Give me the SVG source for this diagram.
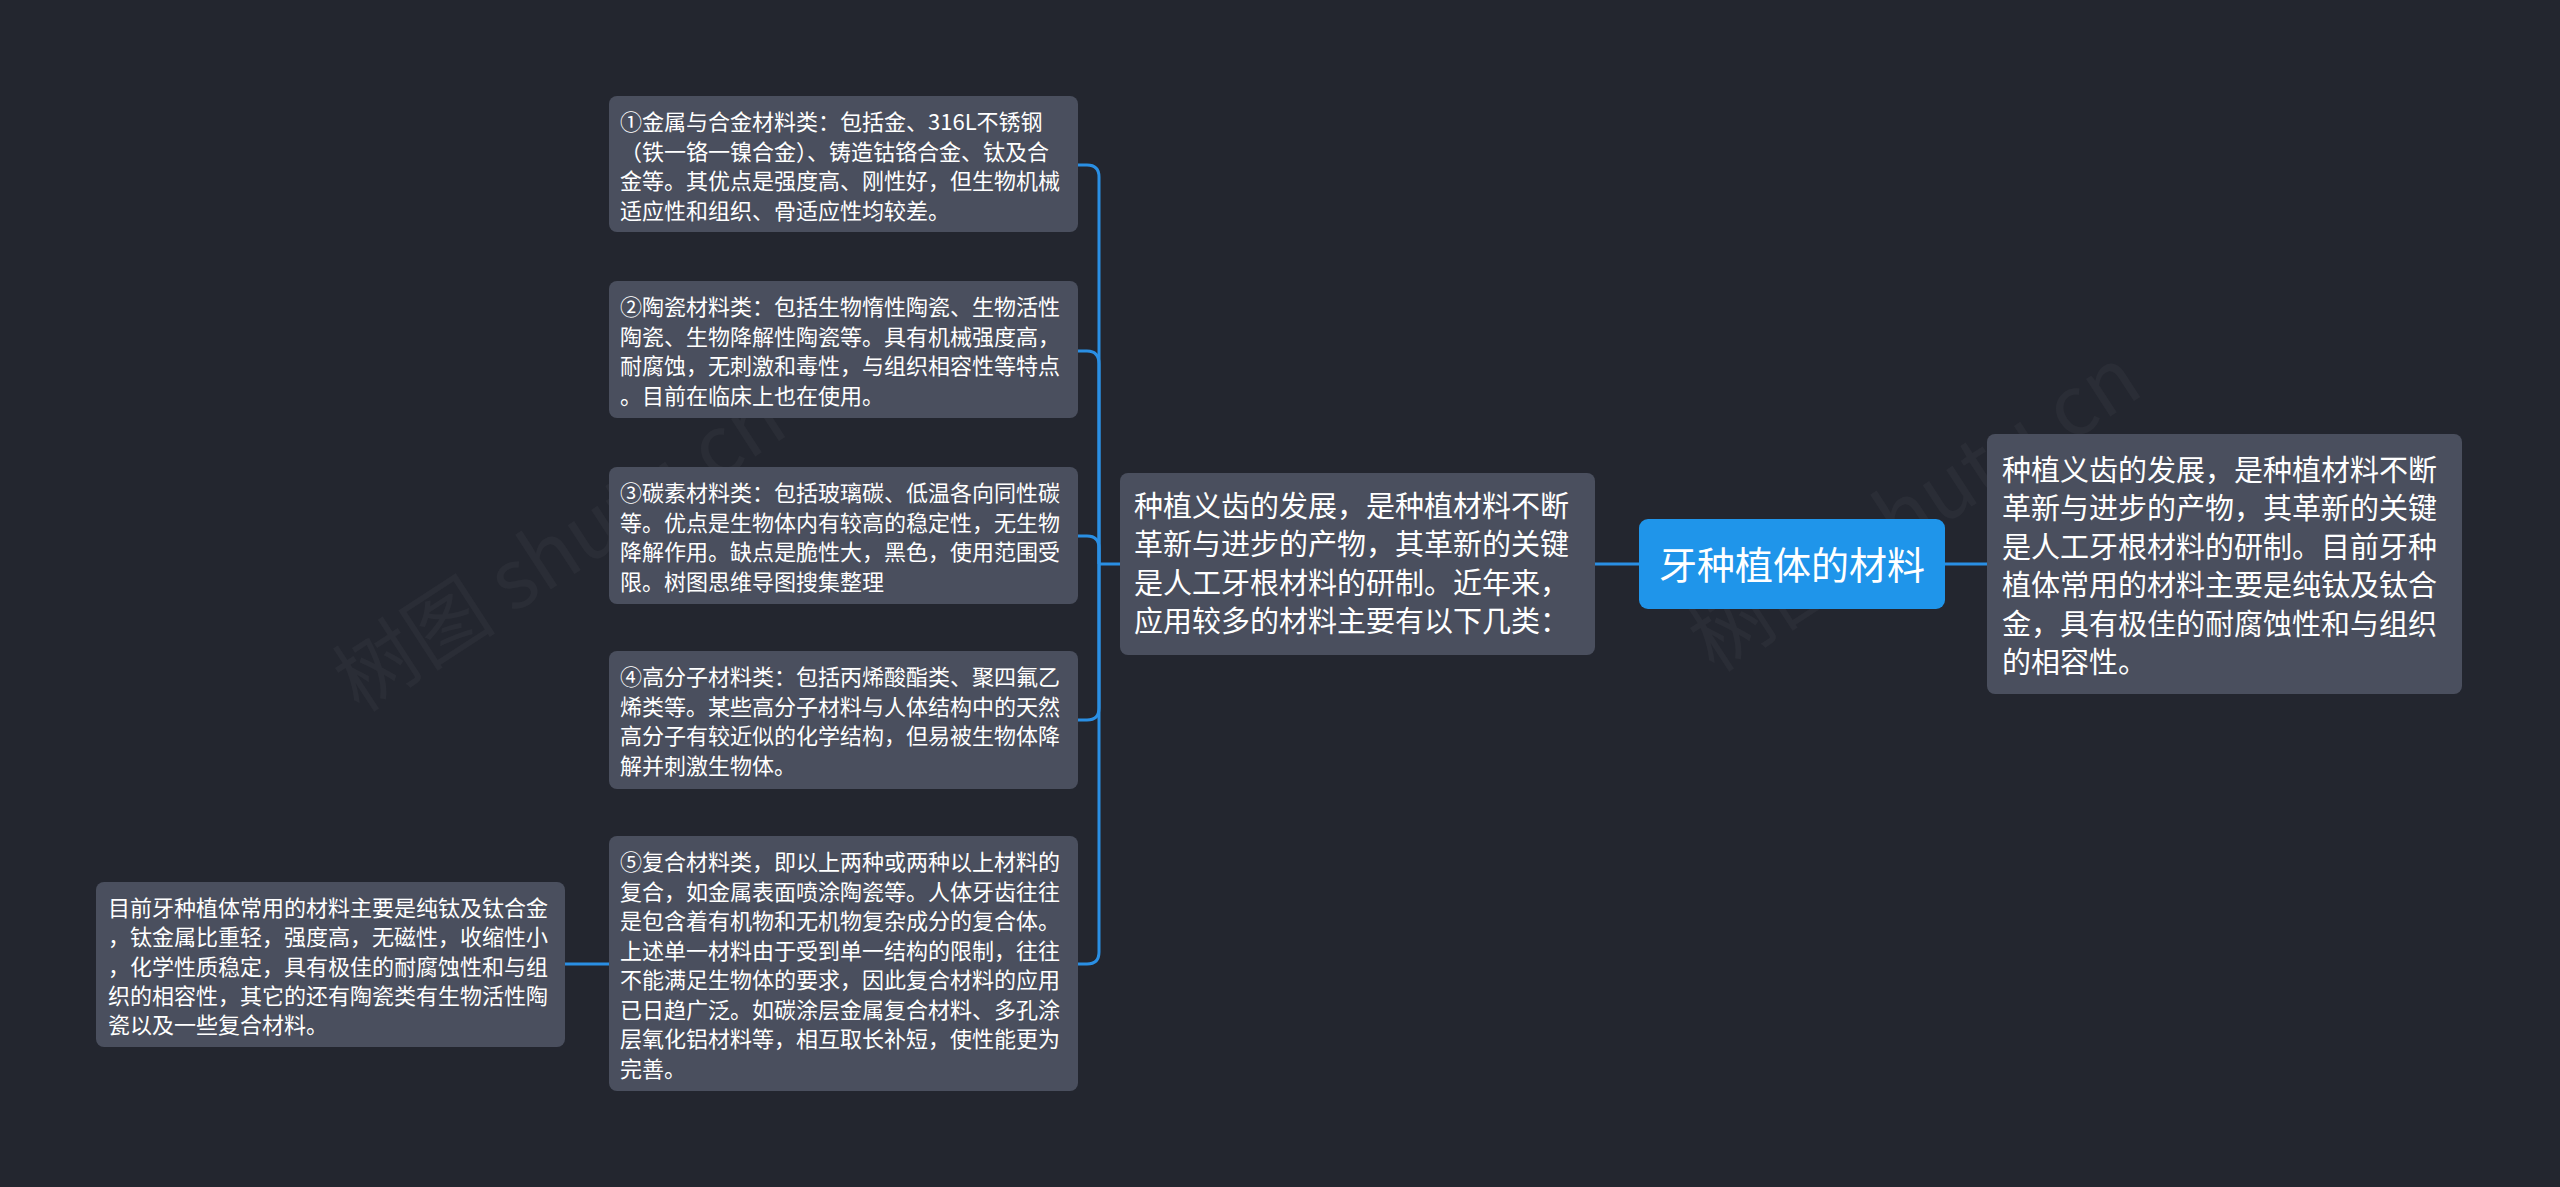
<svg xmlns="http://www.w3.org/2000/svg" width="2560" height="1187" viewBox="0 0 2560 1187">
<defs>
<style>
.bg{fill:#23262f}
.node{fill:#4a4f5e}
.root{fill:#1f95ea}
.t{font-family:"Noto Sans CJK SC","Noto Sans",sans-serif;fill:#ffffff}
.s{font-size:22px}
.m{font-size:29px}
.r{font-size:38px}
.wm{font-family:"Noto Sans CJK SC","Noto Sans",sans-serif;font-size:82px;fill:#ffffff;fill-opacity:0.035}
.c{fill:none;stroke:#2a8fe4;stroke-width:3}
</style>
</defs>
<rect class="bg" x="0" y="0" width="2560" height="1187"/>
<text class="wm" x="560" y="578" text-anchor="middle" transform="rotate(-33 560 550)">树图 shutu.cn</text>
<text class="wm" x="1915" y="538" text-anchor="middle" transform="rotate(-33 1915 510)">树图 shutu.cn</text>
<g id="connectors">
<path class="c" d="M1639 564 H1595"/>
<path class="c" d="M1945 564 H1987"/>
<path class="c" d="M1120 564 H1099"/>
<path class="c" d="M1099 564 V177 Q1099 165 1087 165 H1078"/>
<path class="c" d="M1099 564 V364 Q1099 351 1087 351 H1078"/>
<path class="c" d="M1099 564 V548 Q1099 536 1087 536 H1078"/>
<path class="c" d="M1099 564 V708 Q1099 720 1087 720 H1078"/>
<path class="c" d="M1099 564 V952 Q1099 964 1087 964 H1078"/>
<path class="c" d="M609 964 H565"/>
</g>
<g id="root">
<rect class="root" x="1639" y="519" width="306" height="90" rx="9"/>
<text class="t r" x="1792" y="579" text-anchor="middle">牙种植体的材料</text>
</g>
<g id="right-node">
<rect class="node" x="1987" y="434" width="475" height="260" rx="8"/>
<text class="t m" x="2002" y="481">种植义齿的发展，是种植材料不断</text>
<text class="t m" x="2002" y="519.4">革新与进步的产物，其革新的关键</text>
<text class="t m" x="2002" y="557.8">是人工牙根材料的研制。目前牙种</text>
<text class="t m" x="2002" y="596.2">植体常用的材料主要是纯钛及钛合</text>
<text class="t m" x="2002" y="634.6">金，具有极佳的耐腐蚀性和与组织</text>
<text class="t m" x="2002" y="673">的相容性。</text>
</g>
<g id="middle-node">
<rect class="node" x="1120" y="473" width="475" height="182" rx="8"/>
<text class="t m" x="1134" y="517">种植义齿的发展，是种植材料不断</text>
<text class="t m" x="1134" y="555.4">革新与进步的产物，其革新的关键</text>
<text class="t m" x="1134" y="593.8">是人工牙根材料的研制。近年来，</text>
<text class="t m" x="1134" y="632.2">应用较多的材料主要有以下几类：</text>
</g>
<g id="child-1">
<rect class="node" x="609" y="96" width="469" height="136" rx="8"/>
<text class="t s" x="620" y="130">①金属与合金材料类：包括金、316L不锈钢</text>
<text class="t s" x="620" y="159.5">（铁一铬一镍合金）、铸造钴铬合金、钛及合</text>
<text class="t s" x="620" y="189">金等。其优点是强度高、刚性好，但生物机械</text>
<text class="t s" x="620" y="218.5">适应性和组织、骨适应性均较差。</text>
</g>
<g id="child-2">
<rect class="node" x="609" y="281" width="469" height="137" rx="8"/>
<text class="t s" x="620" y="315">②陶瓷材料类：包括生物惰性陶瓷、生物活性</text>
<text class="t s" x="620" y="344.5">陶瓷、生物降解性陶瓷等。具有机械强度高，</text>
<text class="t s" x="620" y="374">耐腐蚀，无刺激和毒性，与组织相容性等特点</text>
<text class="t s" x="620" y="403.5">。目前在临床上也在使用。</text>
</g>
<g id="child-3">
<rect class="node" x="609" y="467" width="469" height="137" rx="8"/>
<text class="t s" x="620" y="501">③碳素材料类：包括玻璃碳、低温各向同性碳</text>
<text class="t s" x="620" y="530.5">等。优点是生物体内有较高的稳定性，无生物</text>
<text class="t s" x="620" y="560">降解作用。缺点是脆性大，黑色，使用范围受</text>
<text class="t s" x="620" y="589.5">限。树图思维导图搜集整理</text>
</g>
<g id="child-4">
<rect class="node" x="609" y="651" width="469" height="138" rx="8"/>
<text class="t s" x="620" y="685">④高分子材料类：包括丙烯酸酯类、聚四氟乙</text>
<text class="t s" x="620" y="714.5">烯类等。某些高分子材料与人体结构中的天然</text>
<text class="t s" x="620" y="744">高分子有较近似的化学结构，但易被生物体降</text>
<text class="t s" x="620" y="773.5">解并刺激生物体。</text>
</g>
<g id="child-5">
<rect class="node" x="609" y="836" width="469" height="255" rx="8"/>
<text class="t s" x="620" y="870">⑤复合材料类，即以上两种或两种以上材料的</text>
<text class="t s" x="620" y="899.5">复合，如金属表面喷涂陶瓷等。人体牙齿往往</text>
<text class="t s" x="620" y="929">是包含着有机物和无机物复杂成分的复合体。</text>
<text class="t s" x="620" y="958.5">上述单一材料由于受到单一结构的限制，往往</text>
<text class="t s" x="620" y="988">不能满足生物体的要求，因此复合材料的应用</text>
<text class="t s" x="620" y="1017.5">已日趋广泛。如碳涂层金属复合材料、多孔涂</text>
<text class="t s" x="620" y="1047">层氧化铝材料等，相互取长补短，使性能更为</text>
<text class="t s" x="620" y="1076.5">完善。</text>
</g>
<g id="left-node">
<rect class="node" x="96" y="882" width="469" height="165" rx="8"/>
<text class="t s" x="108" y="916">目前牙种植体常用的材料主要是纯钛及钛合金</text>
<text class="t s" x="108" y="945.3">，钛金属比重轻，强度高，无磁性，收缩性小</text>
<text class="t s" x="108" y="974.6">，化学性质稳定，具有极佳的耐腐蚀性和与组</text>
<text class="t s" x="108" y="1003.9">织的相容性，其它的还有陶瓷类有生物活性陶</text>
<text class="t s" x="108" y="1033.2">瓷以及一些复合材料。</text>
</g>
</svg>
